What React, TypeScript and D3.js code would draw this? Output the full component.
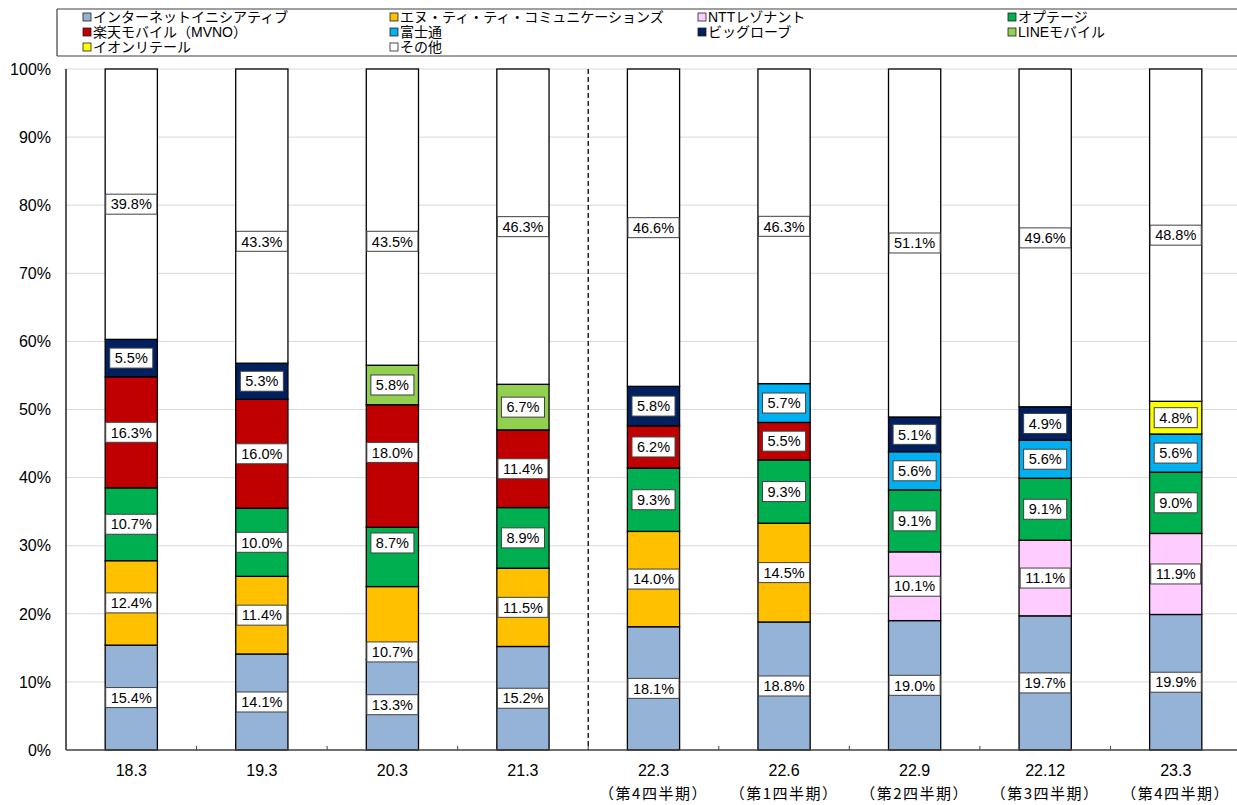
import React, { useEffect, useRef } from 'react';
import * as d3 from 'd3';

// 時点
const categories = ['18.3', '19.3', '20.3', '21.3', '22.3', '22.6', '22.9', '22.12', '23.3'];
const subLabels = ['', '', '', '', '（第4四半期）', '（第1四半期）', '（第2四半期）', '（第3四半期）', '（第4四半期）'];

// シェア (%)
const iij = [15.4, 14.1, 13.3, 15.2, 18.1, 18.8, 19.0, 19.7, 19.9];
const nttCom = [12.4, 11.4, 10.7, 11.5, 14.0, 14.5, 0, 0, 0];
const nttRes = [0, 0, 0, 0, 0, 0, 10.1, 11.1, 11.9];
const optage = [10.7, 10.0, 8.7, 8.9, 9.3, 9.3, 9.1, 9.1, 9.0];
const rakuten = [16.3, 16.0, 18.0, 11.4, 6.2, 5.5, 0, 0, 0];
const fujitsu = [0, 0, 0, 0, 0, 5.7, 5.6, 5.6, 5.6];
const biglobe = [5.5, 5.3, 0, 0, 5.8, 0, 5.1, 4.9, 0];
const lineMobile = [0, 0, 5.8, 6.7, 0, 0, 0, 0, 0];
const aeon = [0, 0, 0, 0, 0, 0, 0, 0, 4.8];
const other = [39.8, 43.3, 43.5, 46.3, 46.6, 46.3, 51.1, 49.6, 48.8];

const seriesNames = [
  'インターネットイニシアティブ',
  'エヌ・ティ・ティ・コミュニケーションズ',
  'NTTレゾナント',
  'オプテージ',
  '楽天モバイル（MVNO）',
  '富士通',
  'ビッグローブ',
  'LINEモバイル',
  'イオンリテール',
  'その他',
];
const seriesValues = [iij, nttCom, nttRes, optage, rakuten, fujitsu, biglobe, lineMobile, aeon, other];
const colors = ['#95b3d7', '#ffc000', '#ffccff', '#00b050', '#c00000', '#00b0f0', '#002060', '#92d050', '#ffff00', '#ffffff'];

// 元グラフで手動移動されたラベル位置 (%, "系列:時点")
const labelAt: Record<string, number> = {
  '9:1': 74.7,
  '9:2': 74.7,
  '1:2': 14.4,
  '3:2': 30.4,
  '4:2': 43.7,
};

const W = 1237;
const H = 805;
const font = '"Liberation Sans", Arial, "Noto Sans CJK JP", sans-serif';

function App() {
  const svgRef = useRef<SVGSVGElement>(null);

  useEffect(() => {
    const svg = d3.select(svgRef.current);
    svg.selectAll('*').remove();

    const x = d3.scaleBand<string>()
      .domain(categories)
      .range([66, 1241])
      .paddingInner(0.6)
      .paddingOuter(0.3);
    const y = d3.scaleLinear().domain([0, 100]).range([750, 69]);

    // 積み上げ用テーブル
    const table = categories.map((c, i) => {
      const row: any = { cat: c };
      seriesNames.forEach((n, s) => { row[n] = seriesValues[s][i]; });
      return row;
    });
    const stacked = d3.stack<any>().keys(seriesNames)(table);

    // 目盛線
    svg.append('g')
      .selectAll('line')
      .data(d3.range(10, 101, 10))
      .enter().append('line')
      .attr('x1', 66).attr('x2', W)
      .attr('y1', d => y(d)).attr('y2', d => y(d))
      .attr('stroke', '#d9d9d9').attr('stroke-width', 1);

    // y軸ラベル
    svg.append('g')
      .selectAll('text')
      .data(d3.range(0, 101, 10))
      .enter().append('text')
      .attr('x', 51).attr('y', d => y(d))
      .attr('dy', '0.36em')
      .attr('text-anchor', 'end')
      .style('font-family', font).style('font-size', '16px')
      .text(d => d + '%');

    // 棒
    stacked.forEach((layer, s) => {
      svg.append('g')
        .selectAll('rect')
        .data(layer.filter(d => d[1] - d[0] > 0))
        .enter().append('rect')
        .attr('x', d => x(d.data.cat)!)
        .attr('width', x.bandwidth())
        .attr('y', d => y(Math.min(100, d[1])))
        .attr('height', d => y(d[0]) - y(Math.min(100, d[1])))
        .attr('fill', colors[s])
        .attr('stroke', '#000')
        .attr('stroke-width', 1.3);
    });

    // 区切り破線
    const sepX = (x('21.3')! + x.bandwidth() + x('22.3')!) / 2;
    svg.append('line')
      .attr('x1', sepX).attr('x2', sepX)
      .attr('y1', y(100)).attr('y2', y(0))
      .attr('stroke', '#000').attr('stroke-width', 1.3)
      .attr('stroke-dasharray', '5,3');

    // 軸線
    svg.append('line')
      .attr('x1', 66).attr('x2', 66).attr('y1', y(100)).attr('y2', y(0))
      .attr('stroke', '#000').attr('stroke-width', 1.3);
    svg.append('line')
      .attr('x1', 66).attr('x2', W).attr('y1', y(0)).attr('y2', y(0))
      .attr('stroke', '#404040').attr('stroke-width', 1.5);
    svg.append('g')
      .selectAll('line')
      .data(categories.slice(1))
      .enter().append('line')
      .attr('x1', d => x(d)! - x.step() * x.paddingInner() / 2)
      .attr('x2', d => x(d)! - x.step() * x.paddingInner() / 2)
      .attr('y1', y(0)).attr('y2', y(0) - 4)
      .attr('stroke', '#404040').attr('stroke-width', 1);

    // データラベル
    const labels = svg.append('g');
    stacked.forEach((layer, s) => {
      layer.forEach((d, i) => {
        const v = d[1] - d[0];
        if (v <= 0) return;
        const key = s + ':' + i;
        const pos = labelAt[key] !== undefined ? labelAt[key] : (d[0] + Math.min(100, d[1])) / 2;
        const cx = x(d.data.cat)! + x.bandwidth() / 2;
        const cy = y(pos);
        const g = labels.append('g');
        const rect = g.append('rect').attr('fill', '#fff').attr('stroke', '#404040').attr('stroke-width', 1);
        const t = g.append('text')
          .attr('x', cx).attr('y', cy)
          .attr('dy', '0.36em')
          .attr('text-anchor', 'middle')
          .style('font-family', font).style('font-size', '14.5px')
          .attr('fill', '#000')
          .text(seriesValues[s][i].toFixed(1) + '%');
        const w = (t.node() as SVGTextElement).getComputedTextLength() + 10;
        rect.attr('x', cx - w / 2).attr('y', cy - 10).attr('width', w).attr('height', 20);
      });
    });

    // x軸ラベル
    svg.append('g')
      .selectAll('text')
      .data(categories)
      .enter().append('text')
      .attr('x', d => x(d)! + x.bandwidth() / 2)
      .attr('y', 776)
      .attr('text-anchor', 'middle')
      .style('font-family', font).style('font-size', '16px')
      .text(d => d);
    svg.append('g')
      .selectAll('text')
      .data(categories)
      .enter().append('text')
      .attr('x', d => x(d)! + x.bandwidth() / 2)
      .attr('y', 799)
      .attr('text-anchor', 'middle')
      .style('font-family', '"Noto Sans CJK JP", sans-serif').style('font-size', '15px')
      .style('letter-spacing', '1.5px')
      .text((d, i) => subLabels[i]);

    // 凡例
    const lg = svg.append('g');
    lg.append('line').attr('x1', 57).attr('x2', W).attr('y1', 9).attr('y2', 9).attr('stroke', '#404040').attr('stroke-width', 1.2);
    lg.append('line').attr('x1', 57).attr('x2', W).attr('y1', 56).attr('y2', 56).attr('stroke', '#404040').attr('stroke-width', 1.2);
    lg.append('line').attr('x1', 57).attr('x2', 57).attr('y1', 9).attr('y2', 56).attr('stroke', '#404040').attr('stroke-width', 1.2);
    const colX = [83, 390, 698, 1008];
    seriesNames.forEach((n, s) => {
      const cx = colX[s % 4];
      const cy = 17 + Math.floor(s / 4) * 15;
      lg.append('rect')
        .attr('x', cx).attr('y', cy - 4).attr('width', 8).attr('height', 8)
        .attr('fill', colors[s]).attr('stroke', '#202020').attr('stroke-width', 0.8);
      lg.append('text')
        .attr('x', cx + 10).attr('y', cy)
        .attr('dy', '0.36em')
        .style('font-family', '"Liberation Sans", "Noto Sans CJK JP", sans-serif')
        .style('font-size', '14px')
        .text(n);
    });
  }, []);

  return (
    <div style={{ position: 'absolute', left: 0, top: 0 }}>
      <svg ref={svgRef} width={W} height={H} style={{ display: 'block', background: '#fff' }}></svg>
    </div>
  );
}

export default App;
